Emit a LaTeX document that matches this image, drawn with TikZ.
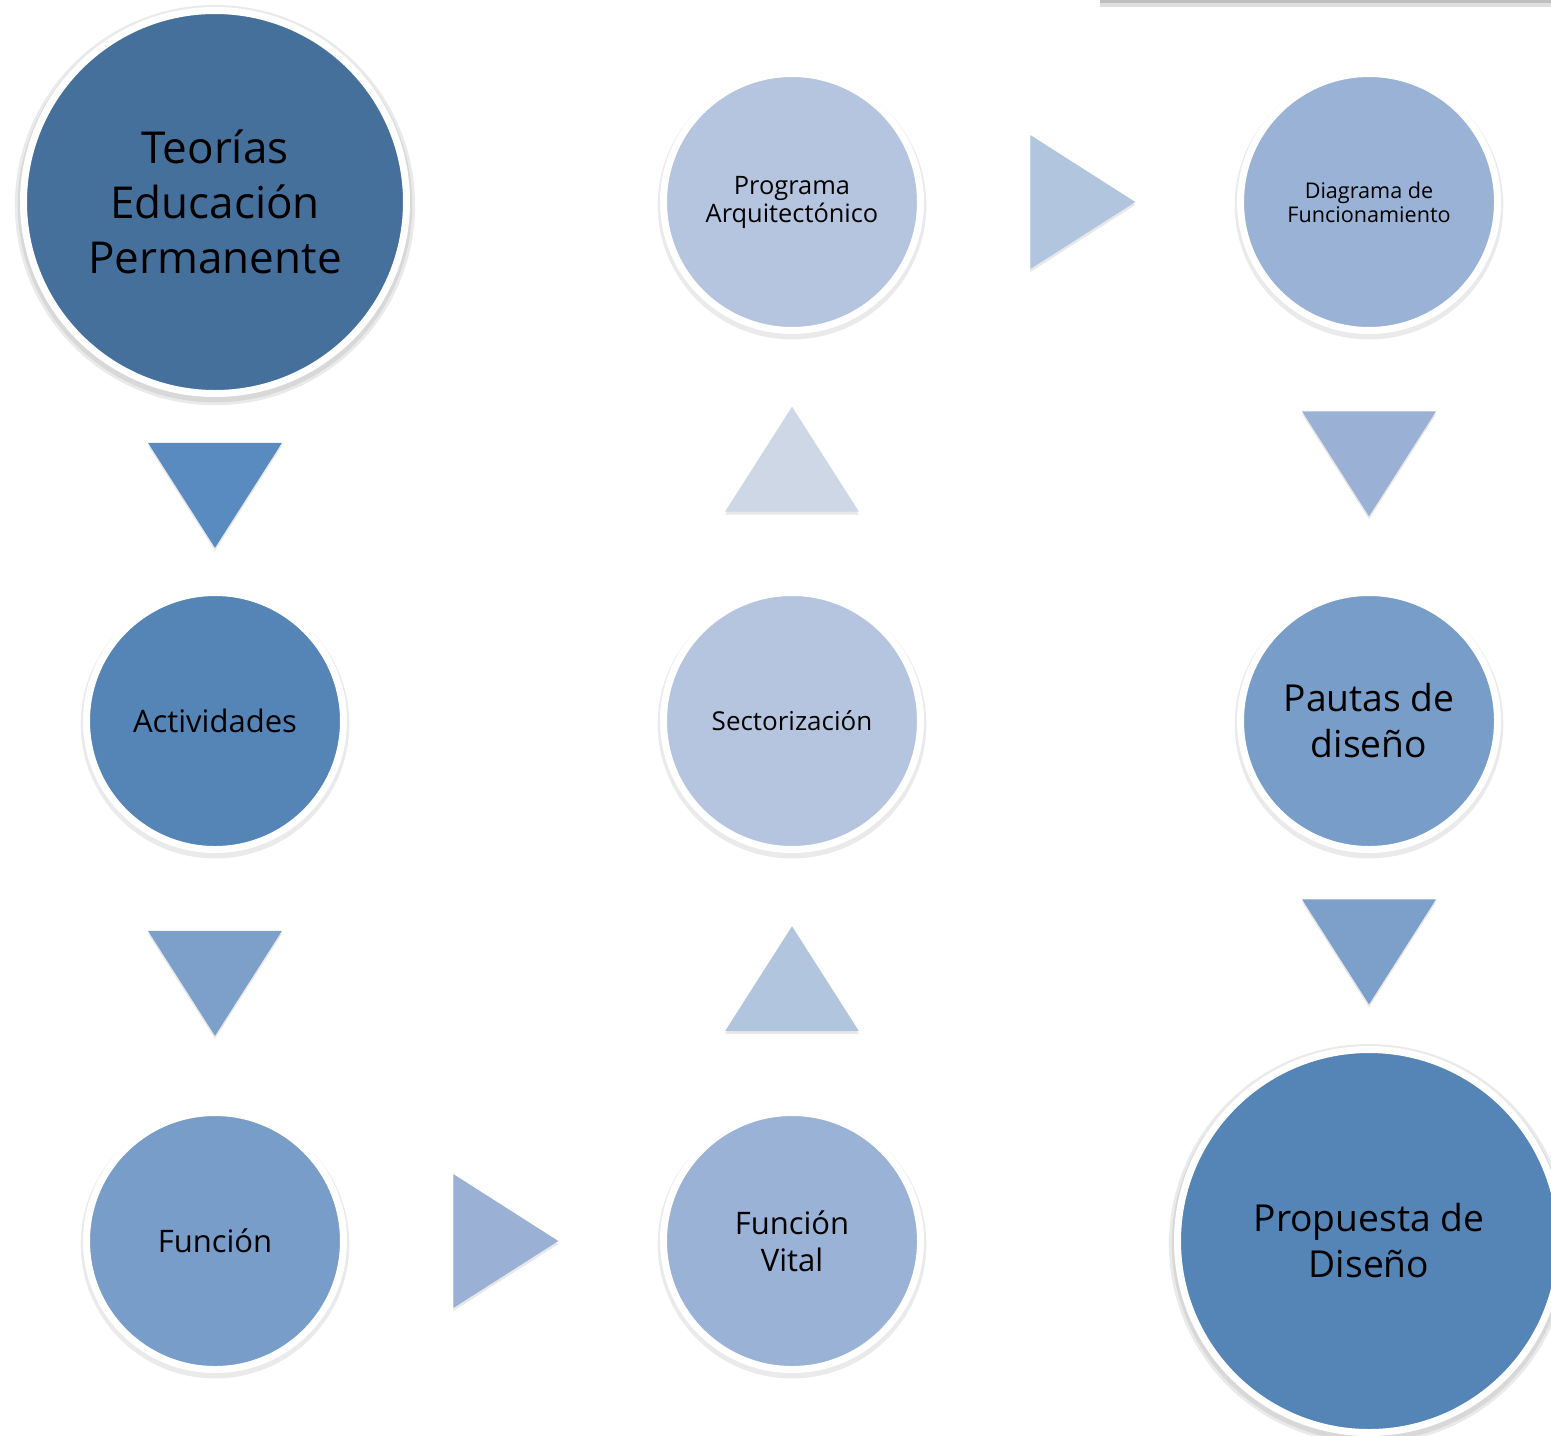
\documentclass[tikz,border=0pt]{standalone}
\usepackage{fontspec}
\setmainfont{Open Sans}
\usetikzlibrary{positioning, calc, shapes.geometric, shadows}
\definecolor{tonedeep}{HTML}{46709C}
\definecolor{tonestrong}{HTML}{5584B7}
\definecolor{tonemid}{HTML}{789DC8}
\definecolor{tonesoft}{HTML}{9AB2D5}
\definecolor{tonepale}{HTML}{B5C5E0}
\definecolor{arrowA}{HTML}{5A8BC0}
\definecolor{arrowB}{HTML}{7DA0CA}
\definecolor{arrowC}{HTML}{9AB1D5}
\definecolor{arrowD}{HTML}{B2C5DF}
\definecolor{arrowE}{HTML}{CDD7E6}
\definecolor{barc}{HTML}{BFBFBF}
\newcommand{\HeadF}{\fontsize{22}{27.5}\selectfont}
\newcommand{\BigF}{\fontsize{18.6}{23}\selectfont}
\newcommand{\MidF}{\fontsize{15.5}{18.5}\selectfont}
\newcommand{\SecF}{\fontsize{13}{15}\selectfont}
\newcommand{\ProgF}{\fontsize{12.7}{14}\selectfont}
\newcommand{\TinyF}{\fontsize{10.8}{12}\selectfont}
\tikzset{
  bubble/.style={circle, draw=white, line width=3.5pt, inner sep=0pt, outer sep=0pt,
        minimum size=128.5pt, align=center, text=black,
        drop shadow={shadow xshift=0pt, shadow yshift=-1.5pt, shadow scale=1.045, opacity=0.16}},
  bigbubble/.style={bubble, minimum size=191.5pt,
        drop shadow={shadow xshift=0pt, shadow yshift=-1.5pt, shadow scale=1.03, opacity=0.16}},
  pointer/.style={isosceles triangle, isosceles triangle stretches, inner sep=0pt, outer sep=0pt,
        minimum width=67pt, minimum height=52.5pt,
        drop shadow={shadow xshift=0pt, shadow yshift=-1.5pt, opacity=0.18}},
  pointright/.style={pointer, xshift=-6.75pt},
  pointdown/.style={pointer, shape border rotate=-90, yshift=6.75pt},
  pointup/.style={pointer, shape border rotate=90, yshift=-6.75pt},
}

\begin{document}
\begin{tikzpicture}[x=0.5pt, y=-0.5pt]
  \path[use as bounding box, fill=white] (0,0) rectangle (1551,1435);
  \fill[barc, drop shadow={shadow xshift=0pt, shadow yshift=-2pt, opacity=0.25}] (1100,-20) rectangle (1580,3);

  \node[bigbubble, fill=tonedeep, font=\HeadF] (teorias) at (215,202) {Teorías\\Educación\\Permanente};
  \node[bubble, fill=tonestrong, font=\MidF] (activ) at (215,721) {Actividades};
  \node[bubble, fill=tonemid, font=\MidF] (funcion) at (215,1241) {Función};
  \node[bubble, fill=tonepale, font=\ProgF] (programa) at (792,202) {Programa\\Arquitectónico};
  \node[bubble, fill=tonepale, font=\SecF] (sector) at (792,721) {Sectorización};
  \node[bubble, fill=tonesoft, font=\MidF] (vital) at (792,1241) {Función\\Vital};
  \node[bubble, fill=tonesoft, font=\TinyF] (diagrama) at (1369,202) {Diagrama de\\Funcionamiento};
  \node[bubble, fill=tonemid, font=\BigF] (pautas) at (1369,721) {Pautas de\\diseño};
  \node[bigbubble, fill=tonestrong, font=\BigF] (propuesta) at (1369,1241) {Propuesta de\\Diseño};

  \node[pointdown, fill=arrowA] (p1) at ($(teorias.south)!0.5!(activ.north)$) {};
  \node[pointdown, fill=arrowB] (p2) at ($(activ.south)!0.5!(funcion.north)$) {};
  \node[pointright, fill=arrowC] (p3) at ($(funcion.east)!0.5!(vital.west)$) {};
  \node[pointup, fill=arrowD] (p4) at ($(vital.north)!0.5!(sector.south)$) {};
  \node[pointup, fill=arrowE] (p5) at ($(sector.north)!0.5!(programa.south)$) {};
  \node[pointright, fill=arrowD] (p6) at ($(programa.east)!0.5!(diagrama.west)$) {};
  \node[pointdown, fill=arrowC] (p7) at ($(diagrama.south)!0.5!(pautas.north)$) {};
  \node[pointdown, fill=arrowB] (p8) at ($(pautas.south)!0.5!(propuesta.north)$) {};
\end{tikzpicture}
\end{document}
